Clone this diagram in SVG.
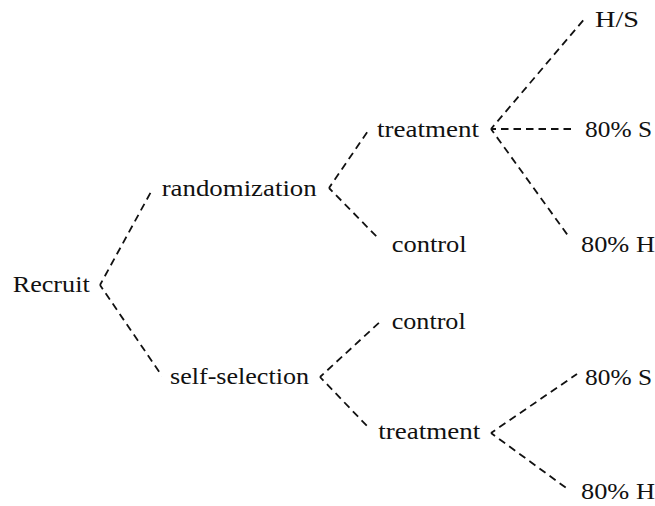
<svg xmlns="http://www.w3.org/2000/svg" width="655" height="506" viewBox="0 0 655 506">
<style>
  .lbl { font-family: "Liberation Serif", "Times New Roman", serif; font-size: 23px; fill: #111; }
  .edge { stroke: #111; stroke-width: 1.8; stroke-dasharray: 7.5 5; stroke-dashoffset: 2.5; fill: none; }
</style>
<rect width="655" height="506" fill="#fff"/>
<g id="connectors">
  <line class="edge" x1="100" y1="285" x2="152" y2="190"/>
  <line class="edge" x1="100" y1="285" x2="162" y2="376"/>
  <line class="edge" x1="329" y1="188" x2="368" y2="131"/>
  <line class="edge" x1="329" y1="188" x2="377" y2="237"/>
  <line class="edge" x1="491" y1="129" x2="586" y2="17"/>
  <line class="edge" x1="491" y1="129" x2="576" y2="129"/>
  <line class="edge" x1="491" y1="129" x2="569" y2="237"/>
  <line class="edge" x1="320" y1="377" x2="382" y2="320"/>
  <line class="edge" x1="320" y1="377" x2="368" y2="427"/>
  <line class="edge" x1="491" y1="433" x2="577" y2="374"/>
  <line class="edge" x1="491" y1="433" x2="569" y2="490"/>
</g>
<g class="lbl">
<g id="recruit"><text x="12.7" y="291.5" textLength="77" lengthAdjust="spacingAndGlyphs">Recruit</text></g>
<g id="randomization"><text x="161.7" y="196" textLength="155" lengthAdjust="spacingAndGlyphs">randomization</text></g>
<g id="self-selection"><text x="170" y="384" textLength="139" lengthAdjust="spacingAndGlyphs">self-selection</text></g>
<g id="treatment-r"><text x="377" y="137" textLength="102" lengthAdjust="spacingAndGlyphs">treatment</text></g>
<g id="control-r"><text x="391.7" y="252" textLength="75" lengthAdjust="spacingAndGlyphs">control</text></g>
<g id="control-s"><text x="391.7" y="329" textLength="74" lengthAdjust="spacingAndGlyphs">control</text></g>
<g id="treatment-s"><text x="378.3" y="438.5" textLength="102" lengthAdjust="spacingAndGlyphs">treatment</text></g>
<g id="hs-r"><text x="595" y="27" textLength="44" lengthAdjust="spacingAndGlyphs">H/S</text></g>
<g id="s80-r"><text x="585" y="137" textLength="67" lengthAdjust="spacingAndGlyphs">80% S</text></g>
<g id="h80-r"><text x="581" y="251.5" textLength="74" lengthAdjust="spacingAndGlyphs">80% H</text></g>
<g id="s80-s"><text x="585" y="384.5" textLength="67" lengthAdjust="spacingAndGlyphs">80% S</text></g>
<g id="h80-s"><text x="581" y="499" textLength="74" lengthAdjust="spacingAndGlyphs">80% H</text></g>
</g>
</svg>
